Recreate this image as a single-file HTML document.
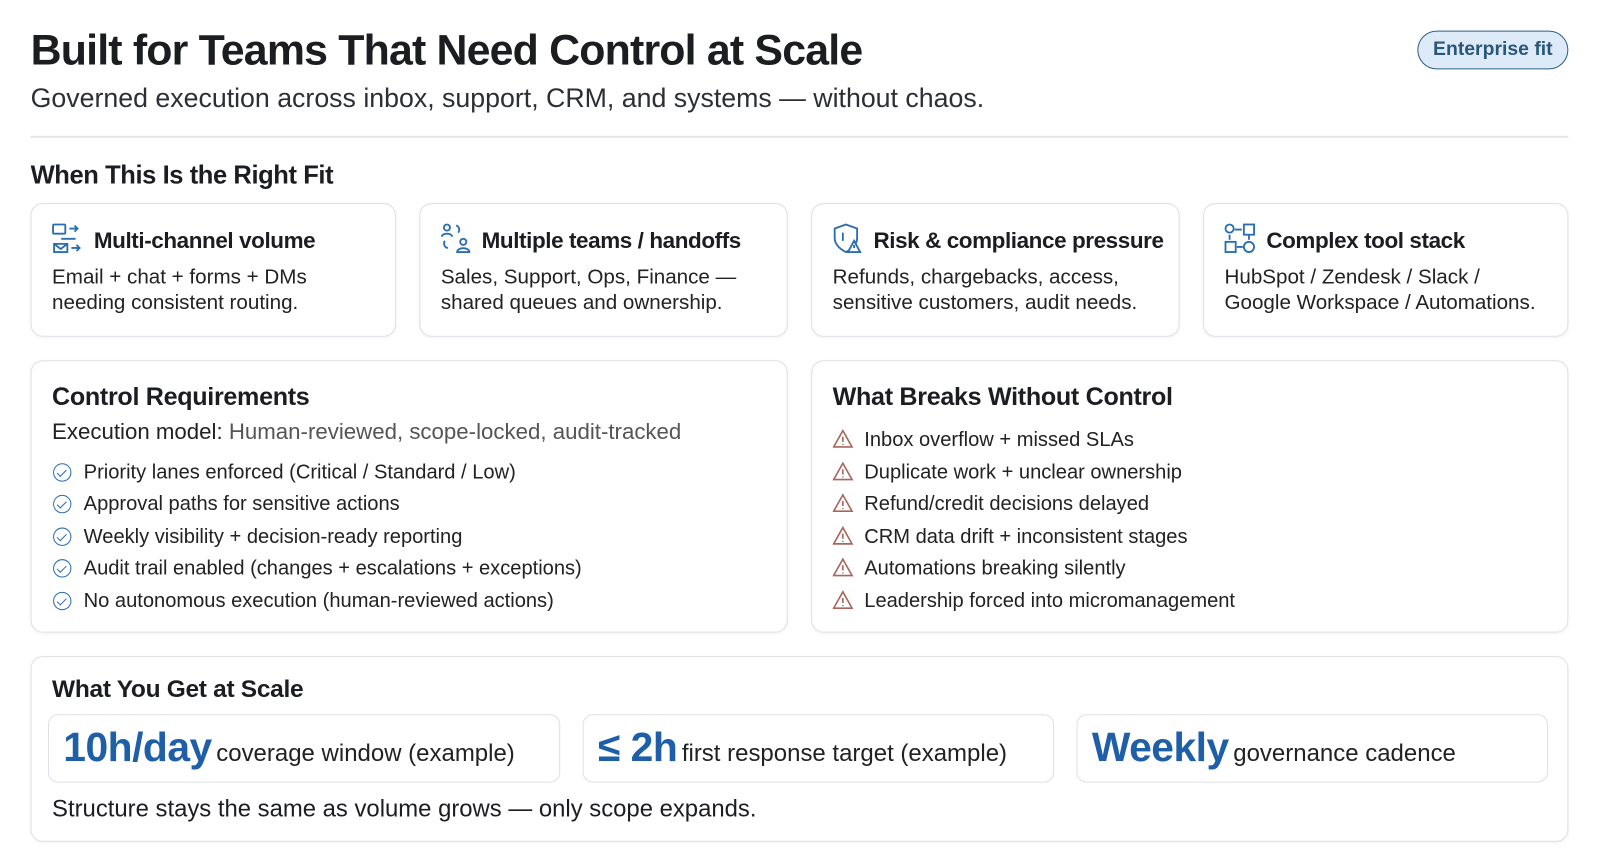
<!DOCTYPE html>
<html><head><meta charset="utf-8"><style>
*{margin:0;padding:0;box-sizing:border-box}
body{width:1600px;height:858px;background:#fff;font-family:"Liberation Sans",sans-serif;color:#1b1d21;position:relative;overflow:hidden}
#w0{position:absolute;left:0;top:0;width:1568px;height:841px;transform:scale(1.0204);transform-origin:0 0}
.a{position:absolute;white-space:nowrap}
.card{position:absolute;border:1.5px solid #dde1e6;border-radius:12px;background:#fff;box-shadow:0 1px 3px rgba(0,0,0,.05)}
.ct{font-weight:bold;font-size:22px;letter-spacing:-.4px}
.cb{font-size:20.2px;line-height:25px;color:#222}
.li{font-size:19.7px;color:#222}
.ic{position:absolute;width:18px;height:18px;border:1.6px solid #2a6db0;border-radius:50%}
.ic:after{content:"";position:absolute;left:4.5px;top:2.5px;width:4px;height:8px;border:solid #2a6db0;border-width:0 1.6px 1.6px 0;transform:rotate(45deg)}
.box{position:absolute;border:1.5px solid #dde1e6;border-radius:10px;top:700px;height:67px}
.big{color:#1f5fa8;font-weight:bold;font-size:40px;letter-spacing:-.5px}
.sm{font-size:23.5px;color:#222}
</style></head><body><div id="w0">
<div class="a" style="left:30px;top:25px;font-size:42px;font-weight:bold;letter-spacing:-.8px">Built for Teams That Need Control at Scale</div>
<div class="a" style="left:30px;top:81px;font-size:26.2px;color:#2c2f33">Governed execution across inbox, support, CRM, and systems — without chaos.</div>
<div class="a" style="left:1389px;top:30px;width:148px;height:38px;border:1.5px solid #2e5f86;border-radius:19px;background:#dcebf7;color:#2a5679;font-size:19px;font-weight:bold;text-align:center;line-height:35px">Enterprise fit</div>
<div class="a" style="left:30px;top:133px;width:1507px;height:1.5px;background:#e2e5e9"></div>
<div class="a" style="left:30px;top:158px;font-size:25px;font-weight:bold;letter-spacing:-.4px">When This Is the Right Fit</div>

<div class="card" style="left:30px;top:199px;width:358px;height:131px"></div>
<div class="card" style="left:411px;top:199px;width:361px;height:131px"></div>
<div class="card" style="left:795px;top:199px;width:361px;height:131px"></div>
<div class="card" style="left:1179px;top:199px;width:358px;height:131px"></div>

<svg class="a" style="left:50px;top:218px" width="34" height="32" viewBox="0 0 34 32" fill="none" stroke="#2a6db0" stroke-width="1.8"><rect x="2" y="2" width="12" height="9" rx="1"/><path d="M18 6h8M23 3l3 3-3 3M10 16h14M3 21h13v8H3zM3 21l6.5 5 6.5-5M20 25h8M25 22l3 3-3 3"/></svg>
<div class="a ct" style="left:92px;top:223px">Multi-channel volume</div>
<div class="a cb" style="left:51px;top:260px">Email + chat + forms + DMs<br>needing consistent routing.</div>

<svg class="a" style="left:431px;top:218px" width="34" height="32" viewBox="0 0 34 32" fill="none" stroke="#2a6db0" stroke-width="1.8"><circle cx="7" cy="5" r="3"/><path d="M2 14c0-4 10-4 10 0M16 3c3 1 4 4 2 7M5 18c-2 3 0 7 3 7"/><circle cx="23" cy="19" r="3"/><path d="M17 29c0-5 12-5 12 0z"/></svg>
<div class="a ct" style="left:472px;top:223px">Multiple teams / handoffs</div>
<div class="a cb" style="left:432px;top:260px">Sales, Support, Ops, Finance —<br>shared queues and ownership.</div>

<svg class="a" style="left:815px;top:218px" width="34" height="32" viewBox="0 0 34 32" fill="none" stroke="#2a6db0" stroke-width="1.8"><path d="M14 2l11 4v9c0 7-5 11-11 14C8 26 3 22 3 15V6z"/><path d="M11 10v8"/><path d="M22 18l-6 11h12z" fill="#fff"/><path d="M22 22v3"/></svg>
<div class="a ct" style="left:856px;top:223px">Risk &amp; compliance pressure</div>
<div class="a cb" style="left:816px;top:260px">Refunds, chargebacks, access,<br>sensitive customers, audit needs.</div>

<svg class="a" style="left:1199px;top:218px" width="34" height="32" viewBox="0 0 34 32" fill="none" stroke="#2a6db0" stroke-width="1.8"><circle cx="6" cy="6" r="4"/><rect x="20" y="2" width="10" height="10"/><path d="M11 7h7M6 12v5M25 12v5"/><rect x="2" y="19" width="10" height="10"/><circle cx="25" cy="24" r="5"/><path d="M13 24h6"/></svg>
<div class="a ct" style="left:1241px;top:223px">Complex tool stack</div>
<div class="a cb" style="left:1200px;top:260px">HubSpot / Zendesk / Slack /<br>Google Workspace / Automations.</div>

<div class="card" style="left:30px;top:353px;width:742px;height:267px"></div>
<div class="card" style="left:795px;top:353px;width:742px;height:267px"></div>
<div class="a" style="left:51px;top:376px;font-size:24.6px;font-weight:bold;letter-spacing:-.3px">Control Requirements</div>
<div class="a" style="left:51px;top:410px;font-size:21.8px;color:#222">Execution model: <span style="color:#555">Human-reviewed, scope-locked, audit-tracked</span></div>
<div class="ic" style="left:52px;top:454px"></div><div class="a li" style="left:82px;top:452px">Priority lanes enforced (Critical / Standard / Low)</div>
<div class="ic" style="left:52px;top:485px"></div><div class="a li" style="left:82px;top:483px">Approval paths for sensitive actions</div>
<div class="ic" style="left:52px;top:517px"></div><div class="a li" style="left:82px;top:515px">Weekly visibility + decision-ready reporting</div>
<div class="ic" style="left:52px;top:548px"></div><div class="a li" style="left:82px;top:546px">Audit trail enabled (changes + escalations + exceptions)</div>
<div class="ic" style="left:52px;top:580px"></div><div class="a li" style="left:82px;top:578px">No autonomous execution (human-reviewed actions)</div>

<div class="a" style="left:816px;top:376px;font-size:24.6px;font-weight:bold;letter-spacing:-.3px">What Breaks Without Control</div>
<svg class="a" style="left:816px;top:420px" width="22" height="200" fill="none" stroke="#a8675a" stroke-width="1.6">
<g id="w"><path d="M10 2L1 18h18z"/><path d="M10 8v5M10 15v1"/></g>
<use href="#w" y="32"/><use href="#w" y="63"/><use href="#w" y="95"/><use href="#w" y="126"/><use href="#w" y="158"/></svg>
<div class="a li" style="left:847px;top:420px">Inbox overflow + missed SLAs</div>
<div class="a li" style="left:847px;top:452px">Duplicate work + unclear ownership</div>
<div class="a li" style="left:847px;top:483px">Refund/credit decisions delayed</div>
<div class="a li" style="left:847px;top:515px">CRM data drift + inconsistent stages</div>
<div class="a li" style="left:847px;top:546px">Automations breaking silently</div>
<div class="a li" style="left:847px;top:578px">Leadership forced into micromanagement</div>

<div class="card" style="left:30px;top:643px;width:1507px;height:182px"></div>
<div class="a" style="left:51px;top:662px;font-size:24px;font-weight:bold;letter-spacing:-.3px">What You Get at Scale</div>
<div class="box" style="left:47px;width:502px"></div>
<div class="box" style="left:571px;width:462px"></div>
<div class="box" style="left:1055px;width:462px"></div>
<div class="a" style="left:62px;top:711px"><span class="big">10h/day</span> <span class="sm">coverage window (example)</span></div>
<div class="a" style="left:586px;top:711px"><span class="big">≤ 2h</span> <span class="sm">first response target (example)</span></div>
<div class="a" style="left:1070px;top:711px"><span class="big">Weekly</span> <span class="sm">governance cadence</span></div>
<div class="a" style="left:51px;top:779px;font-size:23.4px;color:#1b1d21">Structure stays the same as volume grows — only scope expands.</div>
</div></body></html>
